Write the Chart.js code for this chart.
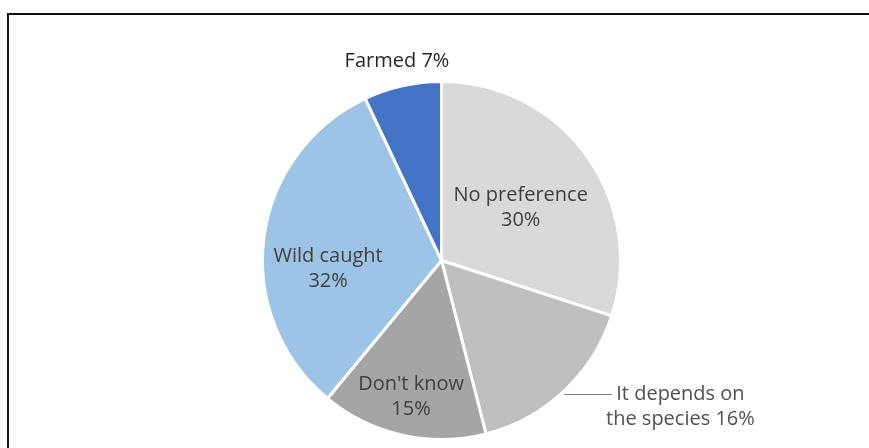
<!DOCTYPE html>
<html>
<head>
<meta charset="utf-8">
<script src="https://cdn.jsdelivr.net/npm/chart.js@4"></script>
<style>
  html, body { margin: 0; padding: 0; background: #fff; }
  #wrap { position: relative; width: 869px; height: 448px; }
  #frame { position: absolute; left: 7px; top: 13px; right: 0; bottom: 0; border-left: 2px solid #111; border-top: 2px solid #111; }
  canvas { position: absolute; left: 0; top: 0; }
</style>
</head>
<body>
<div id="wrap">
  <div id="frame"></div>
  <canvas id="grafico" width="869" height="448"></canvas>
</div>
<script>
const categorias = ['No preference', 'It depends on the species', "Don't know", 'Wild caught', 'Farmed'];
const valores = [30, 16, 15, 32, 7];
const colores = ['#d9d9d9', '#bfbfbf', '#a5a5a5', '#9dc3e6', '#4472c4'];

// como se dibuja cada etiqueta (dentro/fuera del sector)
const etiquetas = [
  { lineas: ['No preference', '30%'], r: 0.53, giro: 0.045, color: '#404040' },
  { lineas: ['It depends on', 'the species 16%'], r: 1.0, fuera: true, color: '#505050' },
  { lineas: ["Don't know", '15%'], r: 0.78, color: '#404040' },
  { lineas: ['Wild caught', '32%'], r: 0.635, giro: -0.195, color: '#404040' },
  { lineas: ['Farmed 7%'], r: 1.14, color: '#262626' }
];

const FUENTE = '20px "Open Sans", Lato, sans-serif';

const pluginEtiquetas = {
  id: 'etiquetas',
  afterDatasetsDraw(chart) {
    const ctx = chart.ctx;
    const arcos = chart.getDatasetMeta(0).data;
    ctx.save();
    ctx.font = FUENTE;
    ctx.textBaseline = 'middle';
    arcos.forEach((arco, i) => {
      const e = etiquetas[i];
      const p = arco.getProps(['x', 'y', 'startAngle', 'endAngle', 'outerRadius']);
      const ang = (p.startAngle + p.endAngle) / 2 + (e.giro || 0);
      ctx.fillStyle = e.color;
      if (e.fuera) {
        const x0 = p.x + Math.cos(ang) * p.outerRadius;
        const y0 = p.y + Math.sin(ang) * p.outerRadius + 3;
        ctx.strokeStyle = '#808080';
        ctx.lineWidth = 1;
        ctx.beginPath();
        ctx.moveTo(x0, y0 + 0.5);
        ctx.lineTo(x0 + 48, y0 + 0.5);
        ctx.stroke();
        const w = Math.max(...e.lineas.map(l => ctx.measureText(l).width));
        ctx.textAlign = 'center';
        const cx = x0 + 42 + w / 2;
        e.lineas.forEach((l, k) => ctx.fillText(l, cx, y0 + k * 25));
        return;
      }
      const cx = p.x + Math.cos(ang) * p.outerRadius * e.r;
      const cy = p.y + Math.sin(ang) * p.outerRadius * e.r;
      ctx.textAlign = 'center';
      const h = 25;
      const top = cy - (e.lineas.length - 1) * h / 2;
      e.lineas.forEach((l, k) => ctx.fillText(l, cx, top + k * h));
    });
    ctx.restore();
  }
};

new Chart(document.getElementById('grafico'), {
  type: 'pie',
  data: {
    labels: categorias,
    datasets: [{
      data: valores,
      backgroundColor: colores,
      borderColor: '#ffffff',
      borderWidth: 3
    }]
  },
  options: {
    responsive: false,
    animation: false,
    layout: { padding: { top: 80, bottom: 7, left: 14, right: 0 } },
    plugins: {
      legend: { display: false },
      tooltip: { enabled: false }
    }
  },
  plugins: [pluginEtiquetas]
});
</script>
</body>
</html>
